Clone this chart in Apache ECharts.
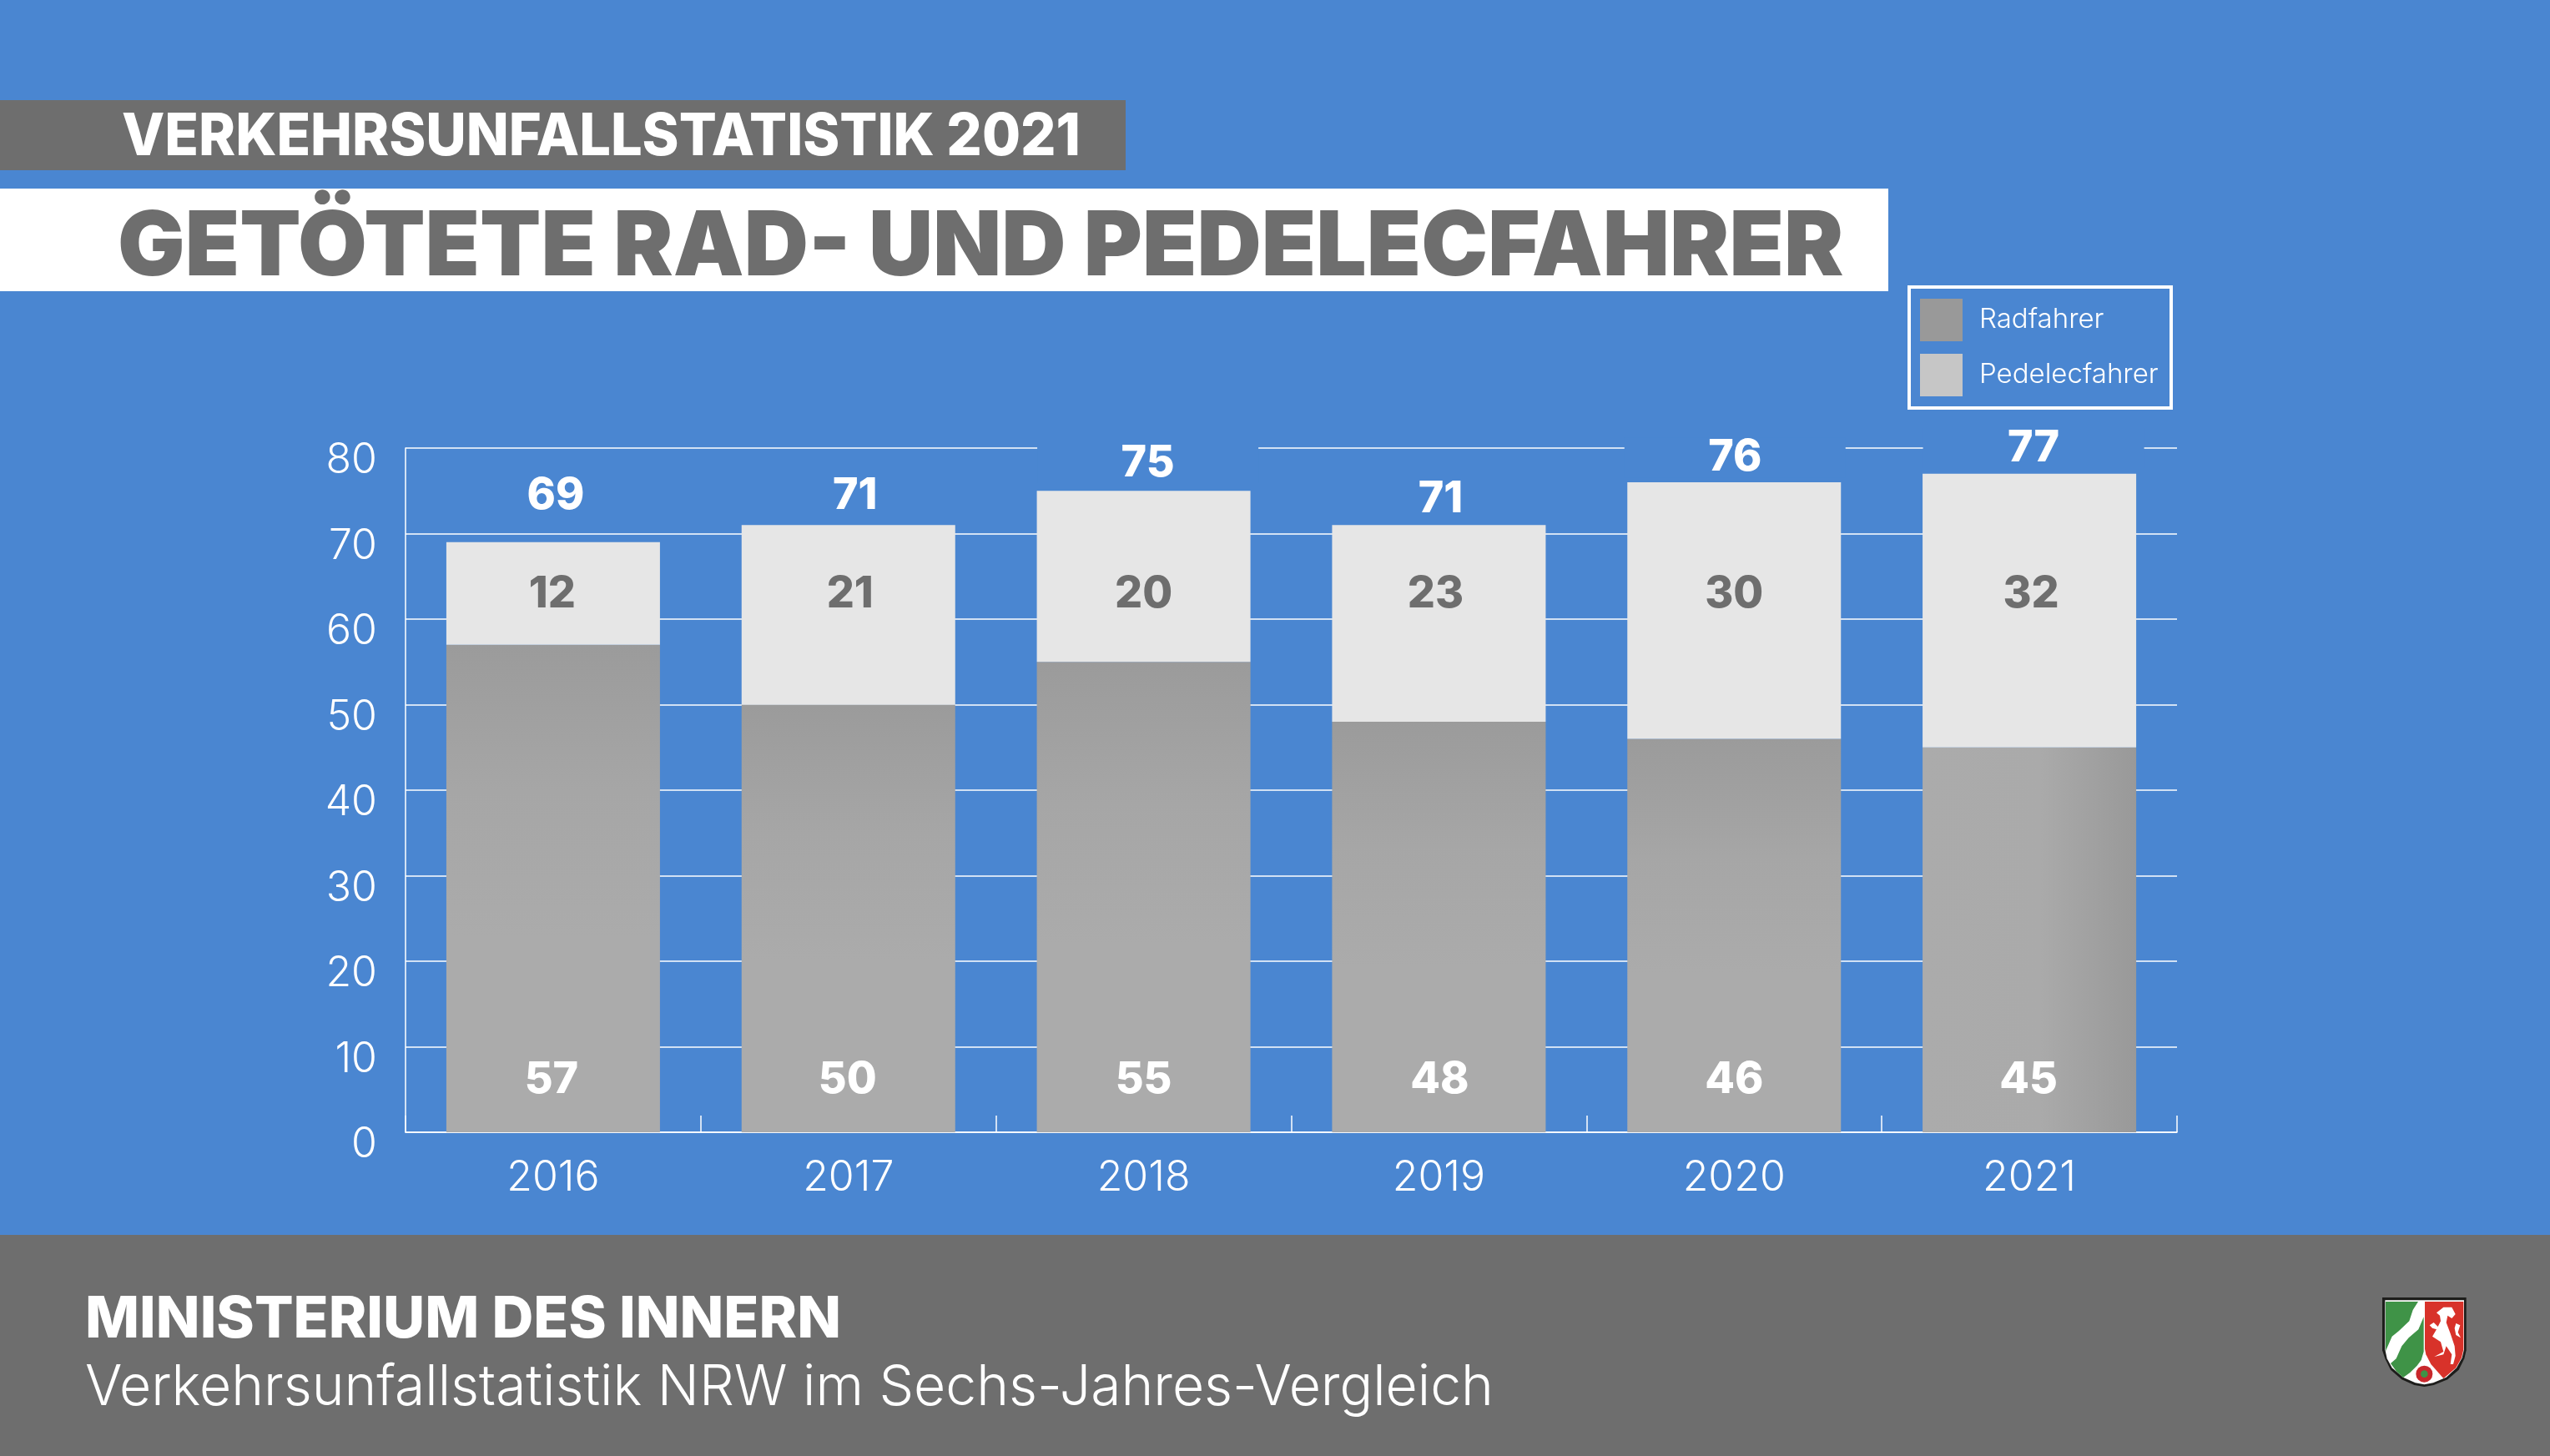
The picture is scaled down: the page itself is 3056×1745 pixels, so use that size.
<!DOCTYPE html>
<html><head><meta charset="utf-8">
<style>html,body{margin:0;padding:0;background:#4a86d1}#c{width:3056px;height:1745px}</style>
<script src="https://cdn.jsdelivr.net/npm/echarts@6/dist/echarts.min.js"></script>
</head><body><div id="c"></div>
<script>
const years = ['2016','2017','2018','2019','2020','2021'];
const radfahrer = [57,50,55,48,46,45];
const pedelecfahrer = [12,21,20,23,30,32];
const gesamt = [69,71,75,71,76,77];
const yTicks = {min:0,max:80,interval:10};

// Where the printed labels sit on the value scale, and their sideways nudge in px
const radLabelLevel = [6.15,6.15,6.15,6.15,6.15,6.15];
const pedLabelLevel = [62.9,62.9,62.9,62.9,62.9,62.9];
const totalLabelLevel = [74.45,74.45,78.25,74.0,78.85,80.0];
const radNudge = [-2,-1,0,1,0,-1];
const pedNudge = [-1,2,0,-4,0,2];
const totalNudge = [3,8,5,2,1,5];
const totalKnockout = [false,false,true,false,true,true];

const BLUE='#4a86d1', GREY='#6e6e6e', WHITE='#ffffff';
const DISPLAY='Inter', THIN='Inter';

const radGradient = i => i===5
 ? {type:'linear',x:0,y:0,x2:1,y2:0,colorStops:[{offset:0,color:'#ababab'},{offset:.55,color:'#aaaaaa'},{offset:1,color:'#999999'}]}
 : {type:'linear',x:0,y:0,x2:0,y2:1,colorStops:[{offset:0,color:'#9b9b9b'},{offset:.3,color:'#a6a6a6'},{offset:.6,color:'#ababab'},{offset:1,color:'#ababab'}]};

function labelSeries(name, values, levels, nudges, color, knock){
  return {
    name, type:'scatter', symbolSize:0, silent:true, z:5, clip:false,
    itemStyle:{opacity:1},
    data: values.map((v,i)=>{
      const box = knock && knock[i];
      return {value:[i,levels[i]],
        label:{show:true,position:'inside',formatter:String(v),offset:[nudges[i],0],
          fontFamily:DISPLAY,fontWeight:800,fontSize:52,color,opacity:1,
          ...(box?{backgroundColor:BLUE,width:265,height:48,lineHeight:48,align:'center',verticalAlign:'middle'}:{})}};
    })
  };
}

const shield = (pts,fill)=>({type:'polygon',shape:{points:pts},style:{fill}});
const arms = {type:'group',x:2800,y:1520,scaleX:1/3,scaleY:1/3,children:[
  shield([[165,105],[467,105],[467,295],[460,325],[440,365],[400,400],[350,420],[316,426],[280,420],[235,400],[195,365],[175,325],[165,295]],'#1d1d1b'),
  shield([[175,115],[459,115],[459,292],[452,322],[432,358],[395,392],[348,412],[316,418],[284,412],[240,392],[200,358],[182,325],[175,292]],'#ffffff'),
  shield([[177,120],[294,120],[275,150],[262,190],[225,225],[200,245],[185,280],[177,298]],'#3f9347'),
  shield([[314,175],[314,300],[305,330],[290,350],[265,375],[240,393],[215,370],[195,342],[215,325],[235,280],[260,250],[295,220]],'#3f9347'),
  shield([[318,120],[457,120],[457,292],[450,322],[430,358],[395,388],[385,396],[340,345],[322,310],[318,290]],'#d8322a'),
  shield([[360,160],[385,140],[415,140],[428,165],[415,180],[400,170],[395,195],[410,235],[425,280],[428,315],[420,345],[410,345],[415,310],[395,280],[385,310],[352,318],[385,300],[375,265],[345,245],[360,220],[345,215],[335,205],[350,195],[365,210],[375,190],[372,170]],'#ffffff'),
  shield([[430,198],[445,205],[437,230],[447,250],[430,240],[425,215]],'#ffffff'),
  {type:'circle',shape:{cx:316,cy:380,r:30},style:{fill:'#c8282c'}},
  {type:'circle',shape:{cx:316,cy:380,r:13},style:{fill:'#3f9347'}}
]};

const txt = (text,x,y,font,fill,scaleX=1)=>({type:'text',x,y,scaleX,style:{text,font,fill,textAlign:'left',textVerticalAlign:'middle'}});

const chart = echarts.init(document.getElementById('c'),null,{renderer:'canvas',width:3056,height:1745});
chart.setOption({
  backgroundColor:BLUE,
  animation:false,
  textStyle:{fontFamily:THIN},
  grid:{left:486,top:537,width:2123,height:820,containLabel:false},
  legend:{
    show:true,left:2296,top:353,orient:'vertical',itemWidth:51,itemHeight:51,itemGap:15,
    icon:'rect',selectedMode:false,
    textStyle:{color:WHITE,fontFamily:THIN,fontSize:33,fontWeight:300,padding:[0,0,0,15]},
    data:[{name:'Radfahrer',itemStyle:{color:'#999999'}},{name:'Pedelecfahrer',itemStyle:{color:'#c6c6c6'}}]
  },
  xAxis:{type:'category',data:years,
    axisLine:{show:true,lineStyle:{color:WHITE,width:1.5}},
    axisTick:{show:true,inside:true,length:20,alignWithLabel:false,lineStyle:{color:WHITE,width:1.5}},
    axisLabel:{color:WHITE,fontFamily:THIN,fontWeight:300,fontSize:50,margin:30},
    splitLine:{show:false}},
  yAxis:{type:'value',min:yTicks.min,max:yTicks.max,interval:yTicks.interval,
    axisLine:{show:true,lineStyle:{color:WHITE,width:1.5}},
    axisTick:{show:false},
    axisLabel:{color:WHITE,fontFamily:THIN,fontWeight:300,fontSize:50,margin:34,verticalAlign:'top',lineHeight:30},
    splitLine:{show:true,lineStyle:{color:WHITE,width:1.5}}},
  series:[
    {name:'Radfahrer',type:'bar',stack:'t',barWidth:256,z:3,
     data:radfahrer.map((v,i)=>({value:v,itemStyle:{color:radGradient(i)}}))},
    {name:'Pedelecfahrer',type:'bar',stack:'t',barWidth:256,z:3,
     itemStyle:{color:'#e6e6e6'},data:pedelecfahrer},
    labelSeries('labelRad',radfahrer,radLabelLevel,radNudge,WHITE),
    labelSeries('labelPed',pedelecfahrer,pedLabelLevel,pedNudge,GREY),
    labelSeries('labelTotal',gesamt,totalLabelLevel,totalNudge,WHITE,totalKnockout)
  ],
  graphic:{elements:[
    {type:'rect',shape:{x:0,y:120,width:1349,height:84},style:{fill:GREY}},
    {type:'rect',shape:{x:0,y:226,width:2263,height:123},style:{fill:WHITE}},
    {type:'rect',shape:{x:0,y:1480,width:3056,height:265},style:{fill:GREY}},
    {type:'rect',shape:{x:2288,y:344,width:314,height:145},style:{fill:'none',stroke:WHITE,lineWidth:4}},
    txt('VERKEHRSUNFALLSTATISTIK 2021',146,165,'800 70px Inter',WHITE,0.953),
    txt('GETÖTETE RAD- UND PEDELECFAHRER',141,298,'900 107px Inter',GREY,0.999),
    txt('MINISTERIUM DES INNERN',102,1582,'800 69px Inter',WHITE,1.0),
    txt('Verkehrsunfallstatistik NRW im Sechs-Jahres-Vergleich',102,1664,'300 67px Inter',WHITE,0.984),
    arms
  ]}
});
</script></body></html>
